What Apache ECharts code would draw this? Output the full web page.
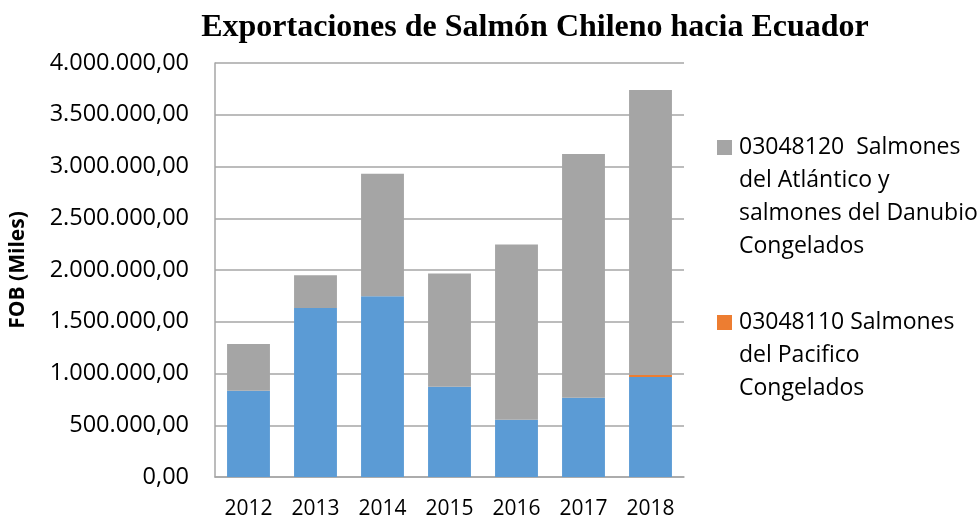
<!DOCTYPE html>
<html>
<head>
<meta charset="utf-8">
<script src="https://cdn.jsdelivr.net/npm/echarts@6/dist/echarts.min.js"></script>
<style>
  html, body { margin: 0; padding: 0; background: #fff; }
  #chart { width: 980px; height: 521px; }
</style>
</head>
<body>
<div id="chart"></div>
<script>
const years = ['2012', '2013', '2014', '2015', '2016', '2017', '2018'];

// FOB (miles) por partida
const otrosSalmones = [833000, 1634000, 1747000, 872000, 553000, 765000, 965000];
const salmonPacifico = [0, 0, 0, 0, 0, 0, 20000];
const salmonAtlantico = [451000, 316000, 1184000, 1094000, 1693000, 2356000, 2753000];

const yTicks = { min: 0, max: 4000000, interval: 500000 };

const nameOtros = '0304 Otros salmones';
const namePacifico = '03048110 Salmones del Pacifico Congelados';
const nameAtlantico = '03048120  Salmones del Atlántico y salmones del Danubio Congelados';

const colors = {
  otros: '#5B9BD5',
  pacifico: '#ED7D31',
  atlantico: '#A5A5A5'
};

const fmtNum = v => {
  const parts = v.toFixed(2).split('.');
  return parts[0].replace(/\B(?=(\d{3})+(?!\d))/g, '.') + ',' + parts[1];
};

const chart = echarts.init(document.getElementById('chart'), null, { renderer: 'canvas' });

const option = {
  backgroundColor: '#fff',
  animation: false,
  title: {
    text: 'Exportaciones de Salmón Chileno hacia Ecuador',
    left: 530,
    textAlign: 'center',
    top: 7,
    textStyle: {
      fontFamily: 'Liberation Serif',
      fontWeight: 'bold',
      fontSize: 32,
      color: '#000'
    }
  },
  grid: {
    left: 215,
    right: 296,
    top: 63,
    bottom: 44
  },
  legend: {
    orient: 'vertical',
    left: 707,
    top: 126,
    itemGap: 43,
    itemWidth: 0,
    itemHeight: 12,
    itemStyle: { opacity: 0 },
    data: [nameAtlantico, namePacifico],
    formatter: name => {
      if (name === nameAtlantico) {
        return '{sqA|}{gap|}03048120  Salmones\n{ind|}del Atlántico y\n{ind|}salmones del Danubio\n{ind|}Congelados';
      }
      return '{sqP|}{gap|}03048110 Salmones\n{ind|}del Pacifico\n{ind|}Congelados';
    },
    textStyle: {
      fontFamily: 'Open Sans',
      fontSize: 23,
      color: '#000',
      lineHeight: 33,
      rich: {
        sqA: { width: 15, height: 15, backgroundColor: colors.atlantico },
        sqP: { width: 15, height: 15, backgroundColor: colors.pacifico },
        gap: { width: 7 },
        ind: { width: 22 }
      }
    }
  },
  xAxis: {
    type: 'category',
    data: years,
    axisLine: { lineStyle: { color: '#A6A6A6', width: 1.5 } },
    axisTick: { show: false },
    axisLabel: {
      color: '#000',
      fontFamily: 'Open Sans',
      fontSize: 21,
      margin: 22
    }
  },
  yAxis: {
    type: 'value',
    min: yTicks.min,
    max: yTicks.max,
    interval: yTicks.interval,
    name: 'FOB (Miles)',
    nameLocation: 'middle',
    nameGap: 186,
    nameTextStyle: {
      fontFamily: 'Open Sans',
      fontWeight: 'bold',
      fontSize: 21,
      color: '#000'
    },
    axisLine: { show: true, lineStyle: { color: '#A6A6A6', width: 1.5 } },
    axisTick: { show: false },
    splitLine: { lineStyle: { color: '#A6A6A6', width: 1.5 } },
    axisLabel: {
      color: '#000',
      fontFamily: 'Open Sans',
      fontSize: 23.5,
      margin: 26,
      formatter: fmtNum
    }
  },
  series: [
    {
      name: nameOtros,
      type: 'bar',
      stack: 'total',
      barWidth: '64%',
      data: otrosSalmones,
      itemStyle: { color: colors.otros }
    },
    {
      name: namePacifico,
      type: 'bar',
      stack: 'total',
      data: salmonPacifico,
      itemStyle: { color: colors.pacifico }
    },
    {
      name: nameAtlantico,
      type: 'bar',
      stack: 'total',
      data: salmonAtlantico,
      itemStyle: { color: colors.atlantico }
    }
  ]
};

chart.setOption(option);
</script>
</body>
</html>
